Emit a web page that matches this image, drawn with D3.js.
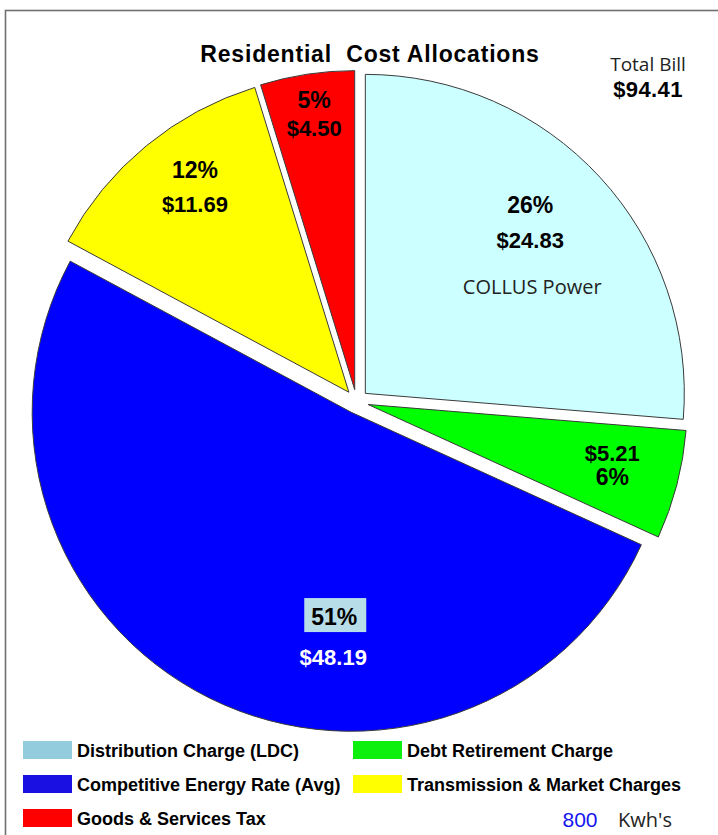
<!DOCTYPE html>
<html>
<head>
<meta charset="utf-8">
<script src="https://cdn.jsdelivr.net/npm/d3@7"></script>
<style>
  body { margin: 0; background: #fff; }
  svg { display: block; }
</style>
</head>
<body>
<div id="vis"></div>
<script>
// slice data, clockwise from 12 o'clock
const CATEGORIES = ["Distribution Charge (LDC)", "Debt Retirement Charge",
                    "Competitive Energy Rate (Avg)", "Transmission & Market Charges",
                    "Goods & Services Tax"];
const COSTS = [24.83, 5.21, 48.19, 11.69, 4.50];
const TOTAL_BILL = 94.41;
const KWH = 800;

// colours
const SLICE_COLORS = ["#CCFFFF", "#00FF00", "#0000FF", "#FFFF00", "#FF0000"];
const LEGEND_COLORS = ["#93CDDD", "#0DF00D", "#1A10E2", "#FFFF00", "#FF0000"];

// frame size
const FRAME_WIDTH = 718;
const FRAME_HEIGHT = 835;

// pie geometry
const CENTER = {x: 356.5, y: 401.5};
const RADIUS = 319;
const EXPLODE = 12;

// label placement for each slice: distance (fraction of radius),
// angle in degrees and gap between text lines
const LABEL_LAYOUT = [
  {dist: 0.726, angle: 45.4, gap: 35},
  {dist: 0.795, angle: 105.7, gap: 24},
  {dist: 0.732, angle: 184.4, gap: 40},
  {dist: 0.784, angle: 322.0, gap: 34},
  {dist: 0.850, angle: 351.4, gap: 28}
];

const ARIAL = "'Liberation Sans', Arial, sans-serif";
const CALIBRI = "'Open Sans', 'Noto Sans', sans-serif";

const svg = d3.select("#vis")
  .append("svg")
  .attr("width", FRAME_WIDTH)
  .attr("height", FRAME_HEIGHT);

svg.append("rect")
  .attr("width", FRAME_WIDTH)
  .attr("height", FRAME_HEIGHT)
  .attr("fill", "#fff");

// outer frame (runs off right and bottom edge)
svg.append("rect")
  .attr("x", 5.5)
  .attr("y", 10.5)
  .attr("width", 800)
  .attr("height", 900)
  .attr("fill", "none")
  .attr("stroke", "#707070")
  .attr("stroke-width", 1.6);

const total = d3.sum(COSTS);

const pie = d3.pie().sort(null).value((d) => d);
const arcs = pie(COSTS);

const arc = d3.arc().innerRadius(0).outerRadius(RADIUS);

// apex of each exploded slice
function apex(d) {
  const mid = (d.startAngle + d.endAngle) / 2;
  return [CENTER.x + EXPLODE * Math.sin(mid), CENTER.y - EXPLODE * Math.cos(mid)];
}

const slices = svg.append("g")
  .selectAll("g")
  .data(arcs)
  .enter()
  .append("g")
    .attr("transform", (d) => "translate(" + apex(d) + ")");

slices.append("path")
  .attr("d", arc)
  .attr("fill", (d, i) => SLICE_COLORS[i])
  .attr("stroke", "#3a3a3a")
  .attr("stroke-width", 1)
  .attr("stroke-linejoin", "round");

// data labels
const pctText = (v) => Math.round(v / total * 100) + "%";
const money = (v) => "$" + v.toFixed(2);

slices.each(function(d, i) {
  const g = d3.select(this);
  const lay = LABEL_LAYOUT[i];
  const a = lay.angle * Math.PI / 180;
  const lx = lay.dist * RADIUS * Math.sin(a);
  const ly = -lay.dist * RADIUS * Math.cos(a);
  const top = ly - lay.gap / 2;
  const bottom = ly + lay.gap / 2;

  const pctFirst = i !== 1;
  const pctY = pctFirst ? top : bottom;
  const monY = pctFirst ? bottom : top;

  if (i === 2) {
    // highlighted percent box on the blue slice
    g.append("rect")
      .attr("x", lx - 29)
      .attr("y", pctY - 27)
      .attr("width", 62)
      .attr("height", 34)
      .attr("fill", "#B7DEE8");
  }

  g.append("text")
    .attr("x", lx + (i === 2 ? 1 : 0))
    .attr("y", pctY)
    .attr("text-anchor", "middle")
    .attr("font-family", ARIAL)
    .attr("font-weight", "bold")
    .attr("font-size", "23px")
    .attr("fill", "#000")
    .text(pctText(COSTS[i]));

  g.append("text")
    .attr("x", lx)
    .attr("y", monY)
    .attr("text-anchor", "middle")
    .attr("font-family", ARIAL)
    .attr("font-weight", "bold")
    .attr("font-size", "22px")
    .attr("fill", i === 2 ? "#fff" : "#000")
    .text(money(COSTS[i]));

  if (i === 0) {
    g.append("text")
      .attr("x", lx + 2)
      .attr("y", monY + 46)
      .attr("text-anchor", "middle")
      .attr("font-family", CALIBRI)
      .attr("font-size", "20px")
      .attr("fill", "#222")
      .text("COLLUS Power");
  }
});

// title
svg.append("text")
  .attr("x", 370)
  .attr("y", 62)
  .attr("text-anchor", "middle")
  .attr("font-family", ARIAL)
  .attr("font-weight", "bold")
  .attr("font-size", "23px")
  .attr("letter-spacing", "0.8px")
  .attr("xml:space", "preserve")
  .text("Residential  Cost Allocations");

// total bill
svg.append("text")
  .attr("x", 648)
  .attr("y", 71)
  .attr("text-anchor", "middle")
  .attr("font-family", CALIBRI)
  .attr("font-size", "19px")
  .attr("fill", "#222")
  .text("Total Bill");

svg.append("text")
  .attr("x", 648)
  .attr("y", 97)
  .attr("text-anchor", "middle")
  .attr("font-family", ARIAL)
  .attr("font-weight", "bold")
  .attr("font-size", "22px")
  .attr("letter-spacing", "0.4px")
  .text("$" + TOTAL_BILL.toFixed(2));

// legend
const LEGEND_X = [23, 353];
const LEGEND_Y = [741, 775, 809];

const legend = svg.append("g")
  .selectAll("g")
  .data(CATEGORIES)
  .enter()
  .append("g")
    .attr("transform", (d, i) => "translate(" + LEGEND_X[i % 2] + "," + LEGEND_Y[Math.floor(i / 2)] + ")");

legend.append("rect")
  .attr("width", 49)
  .attr("height", 18)
  .attr("fill", (d, i) => LEGEND_COLORS[i]);

legend.append("text")
  .attr("x", 54)
  .attr("y", 16)
  .attr("font-family", ARIAL)
  .attr("font-weight", "bold")
  .attr("font-size", "18px")
  .attr("fill", "#000")
  .text((d) => d);

// kWh note
svg.append("text")
  .attr("x", 580)
  .attr("y", 827)
  .attr("text-anchor", "middle")
  .attr("font-family", ARIAL)
  .attr("font-size", "21px")
  .attr("fill", "#1515F0")
  .text(KWH);

svg.append("text")
  .attr("x", 618)
  .attr("y", 827)
  .attr("font-family", CALIBRI)
  .attr("font-size", "20px")
  .attr("fill", "#222")
  .text("Kwh's");
</script>
</body>
</html>
